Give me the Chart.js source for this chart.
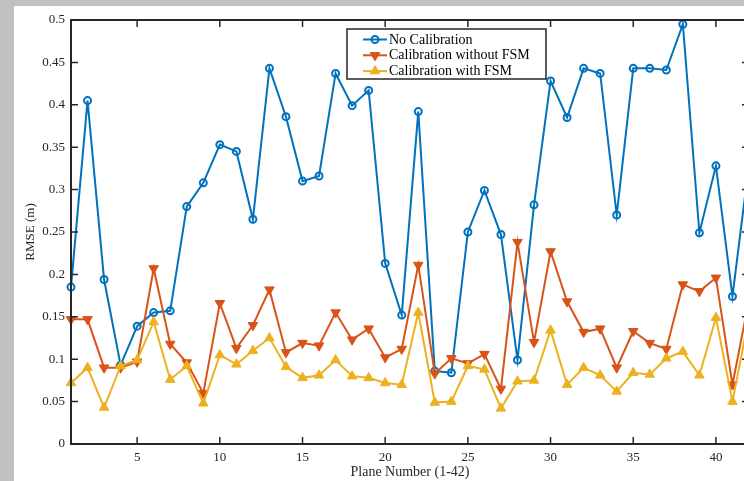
<!DOCTYPE html>
<html>
<head>
<meta charset="utf-8">
<script src="https://cdn.jsdelivr.net/npm/chart.js@4/dist/chart.umd.min.js"></script>
<style>
    html, body { margin: 0; padding: 0; background: #fff; overflow: hidden; width: 744px; height: 481px; }
    .strip { position: absolute; background: #c0c0c0; }
    #rmseChart { position: absolute; left: 0; top: 0; }
</style>
</head>
<body>
<div class="strip" style="left:0;top:0;width:14px;height:481px"></div>
<div class="strip" style="left:0;top:0;width:744px;height:6px"></div>
<canvas id="rmseChart" width="760" height="481"></canvas>
<script>
// Plane numbers (x axis)
const planes = [1, 2, 3, 4, 5, 6, 7, 8, 9, 10, 11, 12, 13, 14, 15, 16, 17, 18, 19, 20, 21,
    22, 23, 24, 25, 26, 27, 28, 29, 30, 31, 32, 33, 34, 35, 36, 37, 38, 39, 40, 41, 42];

// RMSE values (m)
const noCalibration = [0.185, 0.405, 0.194, 0.093, 0.139, 0.155, 0.157, 0.280, 0.308, 0.353, 0.345,
    0.265, 0.443, 0.386, 0.310, 0.316, 0.437, 0.399, 0.417, 0.213, 0.152, 0.392, 0.086, 0.084,
    0.250, 0.299, 0.247, 0.099, 0.282, 0.428, 0.385, 0.443, 0.437, 0.270, 0.443, 0.443, 0.441,
    0.495, 0.249, 0.328, 0.174, 0.330];
const calibNoFsm = [0.147, 0.147, 0.090, 0.090, 0.097, 0.207, 0.118, 0.096, 0.060, 0.166, 0.113,
    0.140, 0.182, 0.108, 0.119, 0.116, 0.155, 0.123, 0.136, 0.102, 0.112, 0.211, 0.083, 0.101,
    0.095, 0.106, 0.065, 0.238, 0.120, 0.227, 0.168, 0.132, 0.136, 0.090, 0.133, 0.119, 0.112,
    0.188, 0.180, 0.196, 0.070, 0.170];
const calibFsm = [0.072, 0.090, 0.043, 0.092, 0.099, 0.144, 0.076, 0.092, 0.048, 0.105, 0.094,
    0.110, 0.125, 0.091, 0.078, 0.081, 0.099, 0.080, 0.078, 0.072, 0.070, 0.155, 0.049, 0.050,
    0.092, 0.088, 0.042, 0.074, 0.075, 0.134, 0.070, 0.090, 0.081, 0.062, 0.084, 0.082, 0.101,
    0.109, 0.081, 0.149, 0.050, 0.150];

// Tick positions
const xTicks = [5, 10, 15, 20, 25, 30, 35, 40];
const yTicks = [0, 0.05, 0.1, 0.15, 0.2, 0.25, 0.3, 0.35, 0.4, 0.45, 0.5];

const colors = {
    blue: '#0072bd',
    orange: '#d95319',
    yellow: '#edb120',
    axis: '#262626',
};

const serif = "'Liberation Serif', 'Times New Roman', serif";

const toPoints = (values) => values.map((v, i) => ({ x: planes[i], y: v }));

// MATLAB style box with inward ticks on all four sides
const boxPlugin = {
    id: 'box',
    afterDraw(chart) {
        const { ctx, chartArea: a, scales } = chart;
        const len = 7;
        ctx.save();
        ctx.strokeStyle = colors.axis;
        ctx.lineWidth = 2;
        ctx.strokeRect(a.left, a.top, a.right - a.left, a.bottom - a.top);
        ctx.lineWidth = 1.5;
        ctx.beginPath();
        xTicks.forEach(t => {
            const px = scales.x.getPixelForValue(t);
            ctx.moveTo(px, a.bottom); ctx.lineTo(px, a.bottom - len);
            ctx.moveTo(px, a.top); ctx.lineTo(px, a.top + len);
        });
        yTicks.forEach(t => {
            const py = scales.y.getPixelForValue(t);
            ctx.moveTo(a.left, py); ctx.lineTo(a.left + len, py);
            ctx.moveTo(a.right, py); ctx.lineTo(a.right - len, py);
        });
        ctx.stroke();
        ctx.restore();
    }
};

// Legend box drawn like the MATLAB one
const legendPlugin = {
    id: 'matlabLegend',
    afterDraw(chart) {
        const { ctx } = chart;
        const box = { x: 347, y: 29, w: 199, h: 50 };
        ctx.save();
        ctx.fillStyle = '#fff';
        ctx.fillRect(box.x, box.y, box.w, box.h);
        ctx.strokeStyle = colors.axis;
        ctx.lineWidth = 1.5;
        ctx.strokeRect(box.x, box.y, box.w, box.h);
        chart.data.datasets.forEach((ds, i) => {
            const y = 39.5 + i * 15.8;
            ctx.strokeStyle = ds.borderColor;
            ctx.lineWidth = 2;
            ctx.beginPath();
            ctx.moveTo(363, y); ctx.lineTo(387, y);
            ctx.stroke();
            ctx.fillStyle = ds.pointBackgroundColor;
            ctx.strokeStyle = ds.borderColor;
            ctx.lineWidth = ds.pointBorderWidth;
            Chart.helpers.drawPoint(ctx, {
                pointStyle: ds.pointStyle,
                radius: ds.pointRadius,
                rotation: ds.pointRotation || 0,
                borderWidth: ds.pointBorderWidth,
            }, 375, y);
            ctx.fillStyle = '#000';
            ctx.font = "14px " + serif;
            ctx.textBaseline = 'middle';
            ctx.fillText(ds.label, 389, y + 0.5);
        });
        ctx.restore();
    }
};

const ctx = document.getElementById('rmseChart').getContext('2d');
new Chart(ctx, {
    type: 'line',
    data: {
        datasets: [{
            label: 'No Calibration',
            data: toPoints(noCalibration),
            borderColor: colors.blue,
            backgroundColor: colors.blue,
            pointBackgroundColor: 'rgba(0,0,0,0)',
            borderWidth: 2,
            pointStyle: 'circle',
            pointRadius: 3.5,
            pointBorderWidth: 2,
            clip: false,
            order: 3,
        }, {
            label: 'Calibration without FSM',
            data: toPoints(calibNoFsm),
            borderColor: colors.orange,
            backgroundColor: colors.orange,
            pointBackgroundColor: colors.orange,
            borderWidth: 2,
            pointStyle: 'triangle',
            pointRotation: 180,
            pointRadius: 5.5,
            pointBorderWidth: 1,
            clip: false,
            order: 2,
        }, {
            label: 'Calibration with FSM',
            data: toPoints(calibFsm),
            borderColor: colors.yellow,
            backgroundColor: colors.yellow,
            pointBackgroundColor: colors.yellow,
            borderWidth: 2,
            pointStyle: 'triangle',
            pointRadius: 5.5,
            pointBorderWidth: 1,
            clip: false,
            order: 1,
        }]
    },
    options: {
        responsive: false,
        animation: false,
        devicePixelRatio: 1,
        layout: { padding: { top: 20, right: 11, left: 0, bottom: 0 } },
        elements: { line: { tension: 0 } },
        plugins: {
            legend: { display: false },
            tooltip: { enabled: false },
        },
        scales: {
            x: {
                type: 'linear',
                min: 1,
                max: 42,
                afterBuildTicks: (scale) => { scale.ticks = xTicks.map(v => ({ value: v })); },
                afterFit: (scale) => { scale.height = 37; },
                grid: { display: false, drawTicks: false },
                border: { display: false },
                ticks: {
                    color: '#262626',
                    padding: 6,
                    maxRotation: 0,
                    font: { family: serif, size: 13 },
                },
                title: {
                    display: true,
                    text: 'Plane Number (1-42)',
                    color: '#262626',
                    padding: 0,
                    font: { family: serif, size: 14 },
                },
            },
            y: {
                min: 0,
                max: 0.5,
                afterBuildTicks: (scale) => { scale.ticks = yTicks.map(v => ({ value: v })); },
                afterFit: (scale) => { scale.width = 71; },
                grid: { display: false, drawTicks: false },
                border: { display: false },
                ticks: {
                    color: '#262626',
                    padding: 6,
                    font: { family: serif, size: 13 },
                    callback: (value) => String(+value.toFixed(2)),
                },
                title: {
                    display: true,
                    text: 'RMSE (m)',
                    color: '#262626',
                    padding: { top: 23, bottom: 0 },
                    font: { family: serif, size: 13 },
                },
            }
        }
    },
    plugins: [boxPlugin, legendPlugin]
});
</script>
</body>
</html>
